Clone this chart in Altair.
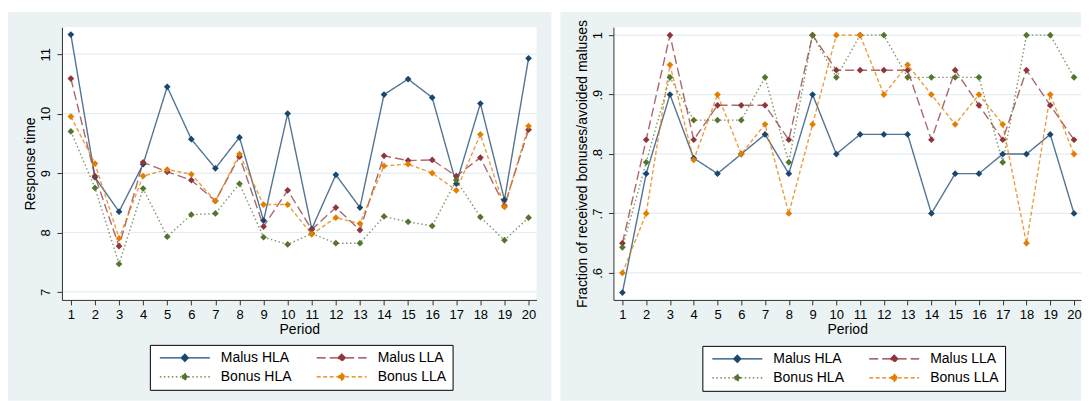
import altair as alt
import pandas as pd

periods = list(range(1, 21))
series_names = ["Malus HLA", "Malus LLA", "Bonus HLA", "Bonus LLA"]
series_colors = ["#1a476f", "#90353b", "#55752f", "#e37e00"]
series_dashes = [[1, 0], [9, 4], [1.5, 2.5], [4, 2.5]]

# Left panel: response time
rt_malus_hla = [11.33, 8.93, 8.35, 9.15, 10.45, 9.57, 9.08, 9.60, 8.20, 10.00,
                8.06, 8.97, 8.42, 10.32, 10.58, 10.27, 8.82, 10.17, 8.55, 10.93]
rt_malus_lla = [10.59, 8.95, 7.77, 9.18, 9.02, 8.88, 8.53, 9.28, 8.10, 8.71,
                8.05, 8.42, 8.04, 9.29, 9.21, 9.22, 8.95, 9.26, 8.45, 9.73]
rt_bonus_hla = [9.70, 8.75, 7.47, 8.74, 7.93, 8.30, 8.32, 8.82, 7.92, 7.80,
                7.98, 7.82, 7.82, 8.27, 8.18, 8.11, 8.88, 8.26, 7.87, 8.25]
rt_bonus_lla = [9.95, 9.16, 7.90, 8.95, 9.06, 8.98, 8.53, 9.32, 8.47, 8.47,
                7.97, 8.25, 8.15, 9.12, 9.15, 9.00, 8.71, 9.65, 8.43, 9.79]

# Right panel: fraction of received bonuses / avoided maluses
fr_malus_hla = [0.567, 0.767, 0.900, 0.793, 0.767, 0.800, 0.833, 0.767, 0.900, 0.800,
                0.833, 0.833, 0.833, 0.700, 0.767, 0.767, 0.800, 0.800, 0.833, 0.700]
fr_malus_lla = [0.650, 0.824, 1.000, 0.824, 0.882, 0.882, 0.882, 0.824, 1.000, 0.941,
                0.941, 0.941, 0.941, 0.824, 0.941, 0.882, 0.824, 0.941, 0.882, 0.824]
fr_bonus_hla = [0.643, 0.786, 0.929, 0.857, 0.857, 0.857, 0.929, 0.786, 1.000, 0.929,
                1.000, 1.000, 0.929, 0.929, 0.929, 0.929, 0.786, 1.000, 1.000, 0.929]
fr_bonus_lla = [0.600, 0.700, 0.950, 0.790, 0.900, 0.800, 0.850, 0.700, 0.850, 1.000,
                1.000, 0.900, 0.950, 0.900, 0.850, 0.900, 0.850, 0.650, 0.900, 0.800]

left_ticks = [7, 8, 9, 10, 11]
right_ticks = [0.6, 0.7, 0.8, 0.9, 1.0]

FONT = "Liberation Sans"
BG = "#eaf2f3"
GRID = "#e4edef"
AXC = "#333333"


def long_df(cols):
    rows = []
    for name, vals in zip(series_names, cols):
        for p, v in zip(periods, vals):
            rows.append({"Period": p, "value": v, "series": name})
    return pd.DataFrame(rows)


def make_legend(lx, ly):
    return alt.Legend(
        title=None, orient="none", legendX=lx, legendY=ly, columns=2,
        direction="horizontal", fillColor="white", strokeColor="black",
        padding=6, symbolType="M-5,0H-0.7M0,-0.7L0.7,0L0,0.7L-0.7,0ZM0.7,0H5",
        symbolSize=100, symbolStrokeWidth=1.4, symbolOffset=22, labelOffset=29,
        columnPadding=21, rowPadding=5, labelFont=FONT, labelFontSize=14,
        labelColor="black", labelLimit=300, zindex=1,
    )


def panel(df, W, H, xdom, ydom, yticks, ytitle, lab_expr, bg_x, bg_x2, lx, ly):
    one = pd.DataFrame({"k": [0]})
    xsc = alt.Scale(domain=xdom, nice=False, zero=False)
    ysc = alt.Scale(domain=ydom, nice=False, zero=False)
    yaxis_kw = dict(
        values=yticks, title=ytitle, zindex=1, labelAngle=270, labelAlign="center",
        labelBaseline="bottom", labelPadding=4, titlePadding=2,
        labelFont=FONT, titleFont=FONT, labelFontSize=13, titleFontSize=14,
        titleFontWeight="normal", labelColor="black", titleColor="black",
        domainColor=AXC, tickColor=AXC, tickSize=5, grid=False, labelOverlap=False,
    )
    if lab_expr:
        yaxis_kw["labelExpr"] = lab_expr
    xaxis = alt.Axis(
        values=periods, format="d", title="Period", zindex=1, labelAngle=0,
        labelPadding=4, titlePadding=1, labelFont=FONT, titleFont=FONT,
        labelFontSize=13, titleFontSize=14, titleFontWeight="normal",
        labelColor="black", titleColor="black", domainColor=AXC, tickColor=AXC,
        tickSize=5, grid=False, labelOverlap=False, labelFlush=False,
    )
    enc_x = alt.X("Period:Q", scale=xsc, axis=xaxis)
    enc_y = alt.Y("value:Q", scale=ysc, axis=alt.Axis(**yaxis_kw))

    bg = alt.Chart(one).mark_rect(fill=BG, strokeWidth=0).encode(
        x=alt.value(bg_x), x2=alt.value(bg_x2), y=alt.value(-15), y2=alt.value(H + 101))
    plotbg = alt.Chart(one).mark_rect(fill="white", strokeWidth=0).encode(
        x=alt.value(0), x2=alt.value(W), y=alt.value(0), y2=alt.value(H))
    grid = alt.Chart(pd.DataFrame({"value": yticks})).mark_rule(
        color=GRID, strokeWidth=1.2).encode(y=enc_y)
    leg = make_legend(lx, ly)
    cscale = alt.Scale(domain=series_names, range=series_colors)
    dscale = alt.Scale(domain=series_names, range=series_dashes)
    lines = alt.Chart(df).mark_line(strokeWidth=1.4, strokeOpacity=0.75).encode(
        x=enc_x, y=enc_y,
        color=alt.Color("series:N", scale=cscale, legend=leg),
        strokeDash=alt.StrokeDash("series:N", scale=dscale, legend=leg),
    )
    pts = alt.Chart(df).mark_point(shape="diamond", filled=True, size=45, opacity=1).encode(
        x=enc_x, y=enc_y,
        color=alt.Color("series:N", scale=cscale, legend=None),
    )
    return alt.layer(bg, plotbg, grid, lines, pts).properties(width=W, height=H)


left = panel(long_df([rt_malus_hla, rt_malus_lla, rt_bonus_hla, rt_bonus_lla]),
             475, 273, [0.63, 20.33], [6.866, 11.454], left_ticks, "Response time", None,
             -54, 490, 88, 318)
right = panel(long_df([fr_malus_hla, fr_malus_lla, fr_bonus_hla, fr_bonus_lla]),
              468, 273, [0.622, 20.294], [0.5546, 1.0134], right_ticks,
              "Fraction of received bonuses/avoided maluses",
              "datum.value >= 0.999 ? '1' : substring(format(datum.value, '.1f'), 1)",
              -53, 468, 89, 319)

chart = alt.hconcat(left, right, spacing=9).resolve_scale(
    color="independent", strokeDash="independent", y="independent"
).resolve_legend(
    color="independent", strokeDash="independent"
).properties(
    padding={"top": 4, "left": 0, "right": 0, "bottom": 0}, background="white"
).configure_view(stroke=None)

chart.save("out.html", embed_options={"renderer": "svg", "actions": False})
